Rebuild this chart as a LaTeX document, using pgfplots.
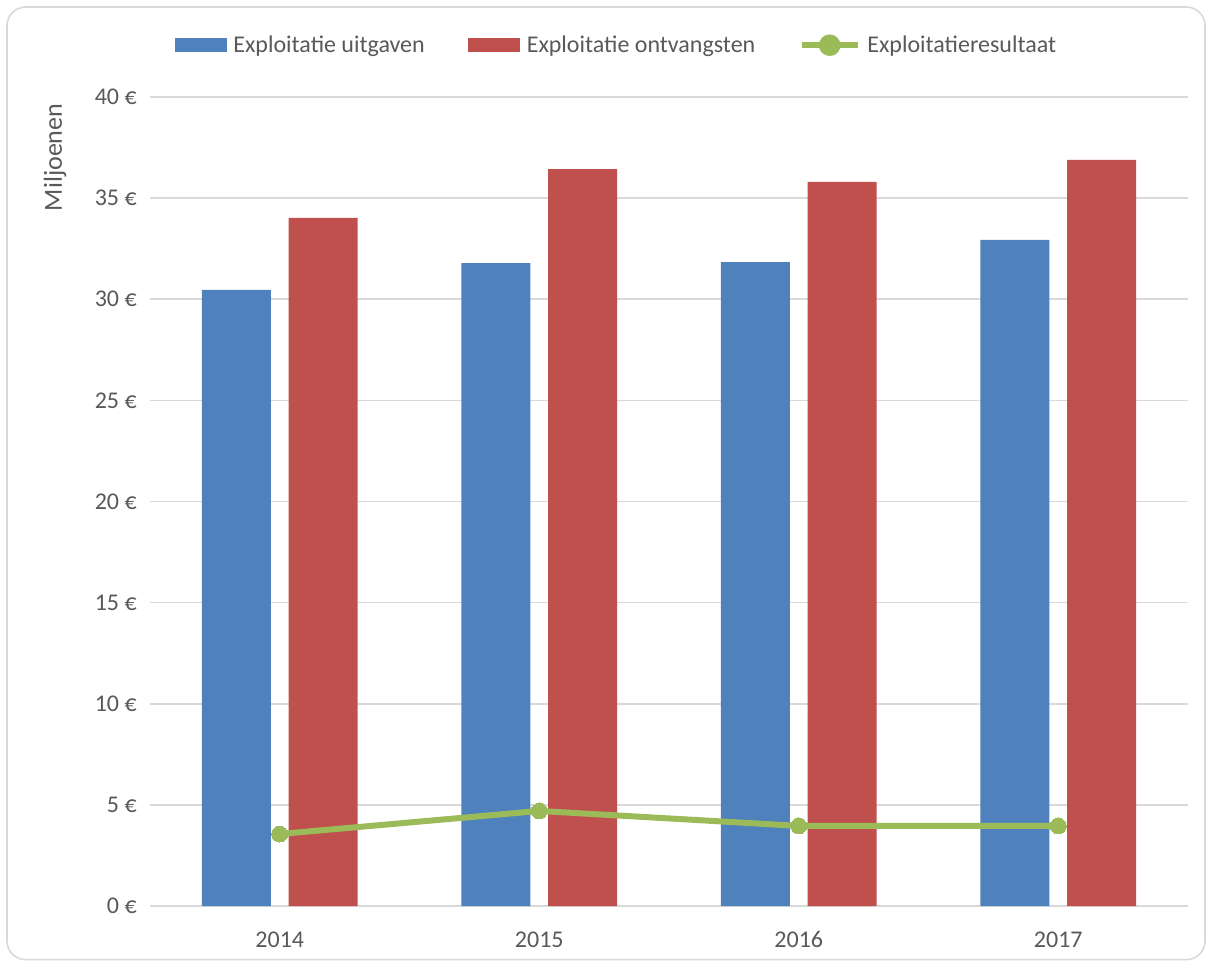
\documentclass[border=0pt]{standalone}
\usepackage{pgfplots}
\pgfplotsset{compat=1.18}
\usepackage{fontspec}
\setmainfont{Carlito}
\definecolor{cblue}{HTML}{4F81BD}
\definecolor{cred}{HTML}{C0504D}
\definecolor{cgreen}{HTML}{9BBB59}
\definecolor{cgrid}{HTML}{D9D9D9}
\definecolor{ctext}{HTML}{595959}
\begin{document}
\begin{tikzpicture}
\path[use as bounding box] (0,0) rectangle (909pt,720.75pt);
\draw[cgrid, line width=1.2pt, rounded corners=14pt] (5.25pt,1pt) rectangle (903.75pt,715.5pt);
\begin{axis}[
  at={(112.5pt,41.25pt)}, anchor=south west,
  scale only axis, width=778.5pt, height=606.75pt,
  xmin=-0.5, xmax=3.5, ymin=0, ymax=40,
  axis x line*=bottom, axis y line*=left,
  x axis line style={cgrid, line width=1.2pt, -},
  y axis line style={draw=none},
  ytick={0,5,...,40},
  yticklabels={0 €,5 €,10 €,15 €,20 €,25 €,30 €,35 €,40 €},
  xtick={0,1,2,3},
  xticklabels={2014,2015,2016,2017},
  major tick length=0pt,
  tick style={draw=none},
  ymajorgrids, grid style={cgrid, line width=1.2pt},
  tick label style={font=\fontsize{18}{21}\selectfont, text=ctext},
  yticklabel style={inner sep=0pt, anchor=east, xshift=-9.75pt},
  xticklabel style={inner sep=0pt, anchor=base, yshift=-31pt},
  clip=false,
  legend columns=3,
  legend style={at={(0.45,1.064)}, anchor=center, draw=none, fill=none,
    font=\fontsize{18}{21}\selectfont, text=ctext,
    nodes={inner sep=2.5pt},
    /tikz/every odd column/.append style={column sep=2.5pt},
    /tikz/every even column/.append style={column sep=30pt}},
  legend cell align=left,
]
\addplot[ybar, bar width=51.75pt, bar shift=-32.6pt, fill=cblue, draw=none,
  legend image code/.code={\fill[cblue] (0pt,-5.25pt) rectangle (39pt,5.25pt);}]
  coordinates {(0,30.46) (1,31.79) (2,31.84) (3,32.93)};
\addlegendentry{Exploitatie uitgaven}
\addplot[ybar, bar width=51.75pt, bar shift=32.6pt, fill=cred, draw=none,
  legend image code/.code={\fill[cred] (0pt,-5.25pt) rectangle (39pt,5.25pt);}]
  coordinates {(0,34.02) (1,36.44) (2,35.80) (3,36.89)};
\addlegendentry{Exploitatie ontvangsten}
\addplot[cgreen, line width=4.5pt, mark=*, mark size=6pt, mark options={fill=cgreen, draw=cgreen, line width=0pt},
  legend image code/.code={\draw[cgreen, line width=4.5pt] (0pt,0pt) -- (42pt,0pt); \fill[cgreen] (21pt,0pt) circle (5.8pt);}]
  coordinates {(0,3.56) (1,4.70) (2,3.96) (3,3.96)};
\addlegendentry{Exploitatieresultaat}
\node[rotate=90, anchor=east, inner sep=0pt, font=\fontsize{19.5}{22}\selectfont, text=ctext] at (rel axis cs:-0.0915,0.992) {Miljoenen};
\end{axis}
\end{tikzpicture}
\end{document}
